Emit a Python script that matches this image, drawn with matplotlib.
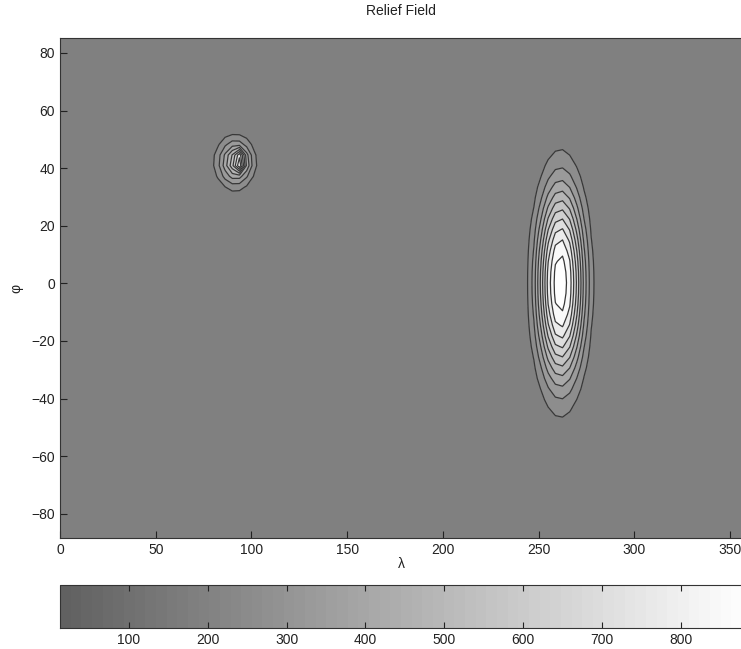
import numpy as np
import matplotlib
matplotlib.use('Agg')
import matplotlib.pyplot as plt
from matplotlib.colors import LinearSegmentedColormap, ListedColormap, Normalize
import matplotlib.cm as cm

plt.rcParams['font.family'] = ['Liberation Sans', 'DejaVu Sans']

# grid (coarse model grid)
lon = np.arange(0, 360, 3.75)
lat = np.linspace(-88.4, 85.2, 48)

# mountains: small base + spike, and the large ridge
peak_lon = [91.5, 93.75, 261.5]
peak_lat = [42.0, 42.5, 0.0]
peak_height = [420.0, 460.0, 850.0]
width_lon = [8.5, 2.8, 11.9]
width_lat = [7.5, 2.8, 32.4]
shape_exp = [1.0, 1.0, 1.2]

contour_levels = [80, 160, 240, 320, 400, 480, 560, 640, 720, 800]
cbar_ticks = [100, 200, 300, 400, 500, 600, 700, 800]
cbar_range = [13, 877]

LON, LAT = np.meshgrid(lon, lat)
relief = np.zeros_like(LON)
for x0, y0, h, ax_, ay_, p in zip(peak_lon, peak_lat, peak_height,
                                  width_lon, width_lat, shape_exp):
    r2 = ((LON - x0) / ax_) ** 2 + ((LAT - y0) / ay_) ** 2
    relief += h * np.exp(-r2 ** p)

W, H = 741, 649
fig = plt.figure(figsize=(W / 100, H / 100), dpi=100)
ax = fig.add_axes([60 / W, (H - 538) / H, 682 / W, 500 / H])

fill_levels = [0] + contour_levels + [1000]
mids = [(a + b) / 2 for a, b in zip(fill_levels[:-1], fill_levels[1:])]
fill_cmap = LinearSegmentedColormap.from_list('relief', [(0.5, 0.5, 0.5), (1, 1, 1)])
ax.contourf(LON, LAT, relief, levels=fill_levels, cmap=fill_cmap,
            norm=Normalize(mids[0], contour_levels[-1]))
ax.contour(LON, LAT, relief, levels=contour_levels, colors='#383838', linewidths=0.9)

ax.set_xlim(0, 356.25)
ax.set_ylim(-88.4, 85.2)
ax.set_xticks(range(0, 351, 50))
ax.set_yticks(range(-80, 81, 20))
ax.tick_params(direction='in', length=5, labelsize=10, colors='#222222',
               top=False, right=False)
for s in ax.spines.values():
    s.set_color('#333333')
ax.set_title('Relief Field', fontsize=10, color='#222222', pad=16.5)
ax.set_xlabel('λ', fontsize=10, color='#222222', labelpad=0)
ax.set_ylabel('φ', fontsize=10, color='#222222', labelpad=6)

# colorbar at the bottom
cax = fig.add_axes([60 / W, (H - 628) / H, 682 / W, 43 / H])
grays = np.linspace(0.38, 0.99, 64)
cb_cmap = ListedColormap([(g, g, g) for g in grays])
sm = cm.ScalarMappable(norm=Normalize(*cbar_range), cmap=cb_cmap)
cb = fig.colorbar(sm, cax=cax, orientation='horizontal', ticks=cbar_ticks)
cb.outline.set_edgecolor('#333333')
cax.tick_params(direction='in', length=4, labelsize=10, colors='#222222',
                top=True, bottom=True)

fig.savefig('out.png', dpi=100)
